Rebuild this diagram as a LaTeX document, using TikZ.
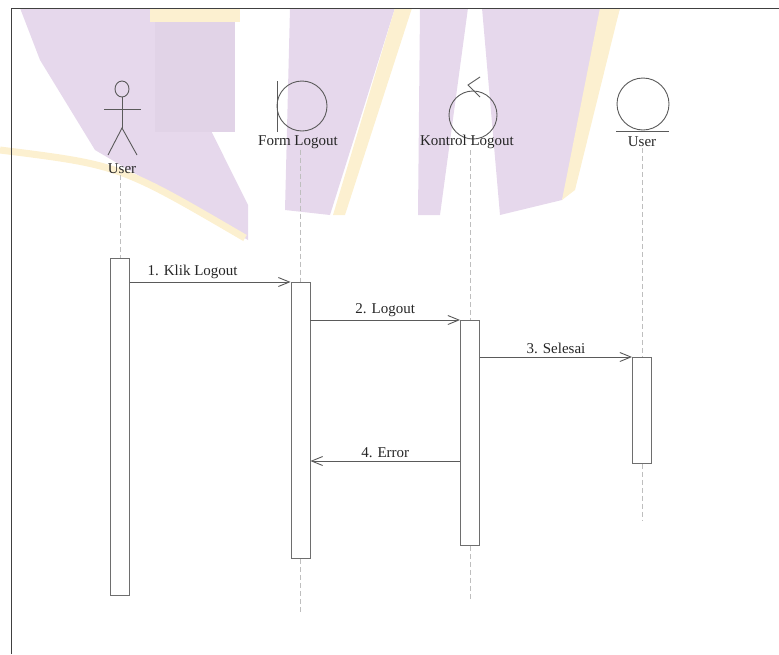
\documentclass[tikz,border=0pt]{standalone}
\usepackage{fontspec}
\setmainfont{Liberation Serif}
\usepackage{tikz}
\usetikzlibrary{arrows.meta,calc,positioning}
\definecolor{cline}{RGB}{90,90,90}
\definecolor{cbar}{RGB}{110,110,110}
\definecolor{cdash}{RGB}{190,190,190}
\definecolor{wmpurple}{RGB}{230,216,236}
\definecolor{wmyellow}{RGB}{252,240,208}
\tikzset{
  actbar/.style={rectangle,draw=cbar,fill=white,line width=0.9pt,
    minimum width=19pt,inner sep=0pt,anchor=north},
  lifeline/.style={draw=cdash,dashed,dash pattern=on 5pt off 3pt,line width=0.8pt},
  msg/.style={draw=cline,line width=0.9pt,
    -{Straight Barb[length=11pt,width=9pt,line width=0.9pt]}},
  msglab/.style={font=\fontsize{15}{18}\selectfont,text=black!85,above,inner sep=3pt},
  objlab/.style={font=\fontsize{15}{18}\selectfont,text=black!85,inner sep=1pt},
  icon/.style={draw=cline,line width=0.9pt}
}

\begin{document}
\begin{tikzpicture}[x=1pt,y=-1pt]
  \useasboundingbox (0,0) rectangle (779,654);
  % faint watermark behind the diagram
  \fill[wmpurple] (20,8) -- (150,8) -- (248,205) -- (248,240) -- (95,150) -- (40,60) -- cycle;
  \fill[wmpurple!85!black!15!wmpurple] (155,8) rectangle (235,132);
  \fill[wmyellow] (150,8) rectangle (240,22);
  \fill[wmpurple] (290,8) -- (395,8) -- (330,215) -- (285,210) -- cycle;
  \fill[wmyellow] (395,8) -- (412,8) -- (345,215) -- (333,215) -- cycle;
  \fill[wmpurple] (420,8) -- (468,8) -- (440,215) -- (418,215) -- cycle;
  \fill[wmpurple] (482,8) -- (620,8) -- (562,200) -- (500,215) -- cycle;
  \fill[wmyellow] (600,8) -- (620,8) -- (575,190) -- (562,200) -- cycle;
  \draw[wmyellow,line width=7pt] (0,150) .. controls (120,165) .. (245,238);

  % frame
  \draw[black!75,line width=1pt] (11,654) -- (11,8) -- (779,8);

  % actor User
  \draw[icon] (122,89) ellipse (7 and 8);
  \draw[icon] (122,97) -- (122,128);
  \draw[icon] (104,109) -- (141,109);
  \draw[icon] (108,155) -- (122,128) -- (137,155);
  \node[objlab] (usr) at (122,169) {User};

  % boundary Form Logout
  \draw[icon] (302,106) circle (25);
  \draw[icon] (277,81) -- (277,132);
  \node[objlab] (frm) at (298,142) {Form Logout};

  % control Kontrol Logout
  \draw[icon] (473,115) circle (24);
  \draw[icon] (480,77) -- (468,85) -- (480,97);
  \node[objlab] (ktr) at (467,142) {Kontrol Logout};

  % entity User
  \draw[icon] (643,104) circle (26);
  \draw[icon] (616,131) -- (669,131);
  \node[objlab] (ent) at (642,142) {User};

  % activation bars
  \node[actbar,minimum height=337pt] (u1) at (120,258) {};
  \node[actbar,minimum height=276pt] (f1) at (300.5,282) {};
  \node[actbar,minimum height=225pt] (k1) at (470,320) {};
  \node[actbar,minimum height=106pt] (e1) at (642,357) {};

  % lifelines
  \coordinate (fend) at (300.5,612);
  \coordinate (kend) at (470,600);
  \coordinate (eend) at (642,520);
  \draw[lifeline] (u1.north |- usr.south) -- (u1.north);
  \draw[lifeline] (f1.north |- frm.south) -- (f1.north);
  \draw[lifeline] (f1.south) -- (fend);
  \draw[lifeline] (k1.north |- ktr.south) -- (k1.north);
  \draw[lifeline] (k1.south) -- (kend);
  \draw[lifeline] (e1.north |- ent.south) -- (e1.north);
  \draw[lifeline] (e1.south) -- (eend);

  % messages
  \draw[msg] (u1.east |- f1.north) -- (f1.north west)
    node[msglab,pos=0.39] {1. Klik Logout};
  \draw[msg] (f1.east |- k1.north) -- (k1.north west)
    node[msglab,midway] {2. Logout};
  \draw[msg] (k1.east |- e1.north) -- (e1.north west)
    node[msglab,midway] {3. Selesai};
  \coordinate (err) at (470,461);
  \draw[msg] (k1.west |- err) -- (f1.east |- err)
    node[msglab,midway] {4. Error};
\end{tikzpicture}
\end{document}
